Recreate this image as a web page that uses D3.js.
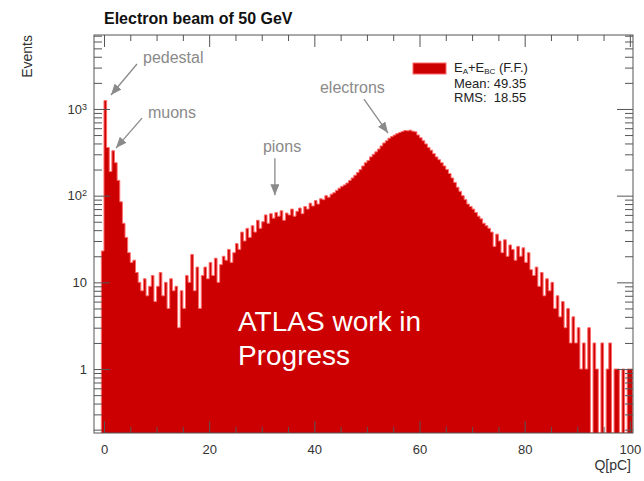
<!DOCTYPE html>
<html>
<head>
<meta charset="utf-8">
<script src="https://cdn.jsdelivr.net/npm/d3@7"></script>
<style>
  body { margin: 0; background: #fff; }
  svg { font-family: "Liberation Sans", Arial, Helvetica, sans-serif; }
</style>
</head>
<body>
<svg id="chart"></svg>
<script>
// Histogram of Q[pC], bins of 0.5 pC starting at -0.5
const binStart = -0.5;
const binWidth = 0.5;
const counts = [
  23, 1250, 360, 190, 330, 240, 150, 85, 48, 33,
  22, 17, 18, 13, 10, 8, 11, 7, 9, 12,
  6, 9, 13, 7, 10, 5, 11, 8, 9, 3,
  8, 5, 12, 10, 21, 8, 15, 5, 12, 15,
  11, 17, 12, 19, 10, 16, 20, 18, 24, 17,
  22, 28, 24, 38, 30, 42, 33, 45, 38, 52,
  42, 50, 60, 48, 62, 55, 64, 58, 67, 52,
  63, 60, 70, 58, 66, 72, 62, 75, 70, 82,
  76, 88, 80, 92, 90, 100, 96, 104, 108, 115,
  122, 128, 133, 140, 150, 160, 172, 185, 200, 220,
  240, 255, 280, 300, 320, 345, 375, 405, 430, 460,
  480, 500, 520, 535, 550, 565, 560, 570, 555, 545,
  500, 465, 430, 395, 360, 335, 305, 280, 260, 240,
  220, 200, 180, 160, 142, 125, 112, 100, 90, 80,
  75, 70, 64, 58, 54, 48, 45, 42, 38, 26,
  36, 30, 22, 31, 20, 27, 24, 18, 26, 20,
  25, 17, 22, 14, 12, 15, 9, 13, 7, 11,
  8, 10, 5, 7, 4, 6, 3, 5, 2, 4,
  2, 3, 1, 2, 1, 3, 0, 2, 1, 0,
  2, 0, 1, 2, 0, 1, 1, 0, 1, 0,
  1, 1
];

const xMajorTicks = [0, 20, 40, 60, 80, 100];
const xMinorTicks = [5, 10, 15, 25, 30, 35, 45, 50, 55, 65, 70, 75, 85, 90, 95];
const yMajorTicks = [1, 10, 100, 1000];
const yMinorMantissas = [2, 3, 4, 5, 6, 7, 8, 9];

const titleText = "Electron beam of 50 GeV";
const xTitle = "Q[pC]";
const yTitle = "Events";
const legendStats = ["Mean: 49.35", "RMS:  18.55"];

// arrow tips in data coordinates (Q, events)
const annotations = [
  { label: "pedestal", q: 1.33, v: 1450 },
  { label: "muons", q: 2.28, v: 354 },
  { label: "pions", q: 32.5, v: 101 },
  { label: "electrons", q: 54.0, v: 527 }
];
const watermark = ["ATLAS work in", "Progress"];

const svgWidth = 644;
const svgHeight = 481;
const frame = { left: 94, right: 633, top: 35, bottom: 433 };

const svg = d3.select("#chart")
    .attr("width", svgWidth)
    .attr("height", svgHeight)
    .style("background-color", "#fff");

const x = d3.scaleLinear()
    .domain([-1.9, 100.6])
    .range([frame.left, frame.right]);

const y = d3.scaleLog()
    .domain([0.183, 7130])
    .range([frame.bottom, frame.top]);

// bins -> points for step curves
const bins = counts.map((c, i) => ({ q: binStart + i * binWidth, v: c }));
const binEnd = binStart + counts.length * binWidth;
const stepPoints = [{ q: binStart, v: 0 }]
    .concat(bins)
    .concat([{ q: binEnd, v: bins[bins.length - 1].v }, { q: binEnd, v: 0 }]);

const yVal = d => d.v > 0 ? y(d.v) : frame.bottom;

const area = d3.area()
    .x(d => x(d.q))
    .y0(frame.bottom)
    .y1(yVal)
    .curve(d3.curveStepAfter);

const outline = d3.line()
    .x(d => x(d.q))
    .y(yVal)
    .curve(d3.curveStepAfter);

svg.append("defs").append("clipPath")
    .attr("id", "plot-clip")
    .append("rect")
    .attr("x", frame.left)
    .attr("y", frame.top)
    .attr("width", frame.right - frame.left)
    .attr("height", frame.bottom - frame.top);

const plot = svg.append("g").attr("clip-path", "url(#plot-clip)");

plot.append("path")
    .datum(stepPoints)
    .attr("d", area)
    .attr("fill", "#cc0000");

plot.append("path")
    .datum(stepPoints)
    .attr("d", outline)
    .attr("fill", "none")
    .attr("stroke", "#ff6a6a")
    .attr("stroke-width", 1);

// Watermark text
svg.append("text")
    .attr("x", 238)
    .attr("y", 331)
    .attr("fill", "#fff")
    .style("font-size", "28px")
    .selectAll("tspan")
    .data(watermark)
    .enter().append("tspan")
    .attr("x", 238)
    .attr("dy", (d, i) => i === 0 ? 0 : 34)
    .text(d => d);

// Axes (ROOT style, ticks inside the frame on all sides)
const axisColor = "#555";
const yMinorTicks = [];
[-1, 0, 1, 2, 3].forEach(k => {
    yMinorMantissas.forEach(m => {
        const v = m * Math.pow(10, k);
        if (v >= y.domain()[0] && v <= y.domain()[1]) yMinorTicks.push(v);
    });
});

function styleAxis(g) {
    g.select(".domain").remove();
    g.selectAll("line").attr("stroke", axisColor);
    g.selectAll("text").attr("fill", "#333").style("font-size", "13px");
}

svg.append("g")
    .attr("transform", `translate(0, ${frame.bottom})`)
    .call(d3.axisBottom(x).tickValues(xMajorTicks).tickSize(-12).tickPadding(12).tickFormat(d3.format("d")))
    .call(styleAxis);
svg.append("g")
    .attr("transform", `translate(0, ${frame.bottom})`)
    .call(d3.axisBottom(x).tickValues(xMinorTicks).tickSize(-6).tickFormat(""))
    .call(styleAxis);
svg.append("g")
    .attr("transform", `translate(0, ${frame.top})`)
    .call(d3.axisTop(x).tickValues(xMajorTicks).tickSize(-12).tickFormat(""))
    .call(styleAxis);
svg.append("g")
    .attr("transform", `translate(0, ${frame.top})`)
    .call(d3.axisTop(x).tickValues(xMinorTicks).tickSize(-6).tickFormat(""))
    .call(styleAxis);

const yAxisLeft = svg.append("g")
    .attr("transform", `translate(${frame.left}, 0)`)
    .call(d3.axisLeft(y).tickValues(yMajorTicks).tickSize(-16).tickPadding(7).tickFormat(""))
    .call(styleAxis);
svg.append("g")
    .attr("transform", `translate(${frame.left}, 0)`)
    .call(d3.axisLeft(y).tickValues(yMinorTicks).tickSize(-8).tickFormat(""))
    .call(styleAxis);
svg.append("g")
    .attr("transform", `translate(${frame.right}, 0)`)
    .call(d3.axisRight(y).tickValues(yMajorTicks).tickSize(-16).tickFormat(""))
    .call(styleAxis);
svg.append("g")
    .attr("transform", `translate(${frame.right}, 0)`)
    .call(d3.axisRight(y).tickValues(yMinorTicks).tickSize(-8).tickFormat(""))
    .call(styleAxis);

// y labels as powers of ten
yAxisLeft.selectAll(".tick text").each(function (d) {
    const t = d3.select(this);
    const p = Math.round(Math.log10(d));
    t.text(null);
    if (p <= 1) {
        t.text(d);
    } else {
        t.append("tspan").text("10");
        t.append("tspan").attr("dy", "-0.45em").style("font-size", "9px").text(p);
    }
});

// Frame
svg.append("rect")
    .attr("x", frame.left)
    .attr("y", frame.top)
    .attr("width", frame.right - frame.left)
    .attr("height", frame.bottom - frame.top)
    .attr("fill", "none")
    .attr("stroke", axisColor)
    .attr("stroke-width", 1);

// Titles
svg.append("text")
    .attr("x", 104)
    .attr("y", 24)
    .style("font-size", "16px")
    .style("font-weight", "bold")
    .attr("fill", "#111")
    .text(titleText);

svg.append("text")
    .attr("transform", "translate(32, 35) rotate(-90)")
    .style("text-anchor", "end")
    .style("font-size", "14px")
    .attr("fill", "#333")
    .text(yTitle);

svg.append("text")
    .attr("x", 631)
    .attr("y", 470)
    .style("text-anchor", "end")
    .style("font-size", "14px")
    .attr("fill", "#333")
    .text(xTitle);

// Legend
svg.append("rect")
    .attr("x", 413)
    .attr("y", 63)
    .attr("width", 33)
    .attr("height", 11)
    .attr("fill", "#cc0000")
    .attr("stroke", "#ff6a6a");

const legendLabel = svg.append("text")
    .attr("x", 454)
    .attr("y", 72)
    .style("font-size", "13px")
    .attr("fill", "#222");
legendLabel.append("tspan").text("E");
legendLabel.append("tspan").attr("dy", 2).style("font-size", "8px").text("A");
legendLabel.append("tspan").attr("dy", -2).text("+E");
legendLabel.append("tspan").attr("dy", 2).style("font-size", "8px").text("BC");
legendLabel.append("tspan").attr("dy", -2).text(" (F.F.)");

svg.selectAll(".legend-stat")
    .data(legendStats)
    .enter().append("text")
    .attr("class", "legend-stat")
    .attr("x", 454)
    .attr("y", (d, i) => 88 + i * 14)
    .style("font-size", "13px")
    .style("white-space", "pre")
    .attr("fill", "#222")
    .text(d => d);

// Annotation arrows
const arrowColor = "#8a8a8a";
svg.select("defs").append("marker")
    .attr("id", "arrowhead")
    .attr("markerUnits", "userSpaceOnUse")
    .attr("markerWidth", 11)
    .attr("markerHeight", 9)
    .attr("refX", 11)
    .attr("refY", 4.5)
    .attr("orient", "auto")
    .append("path")
    .attr("d", "M0,0 L11,4.5 L0,9 Z")
    .attr("fill", arrowColor);

// tail offset and label offset relative to arrow tip (pixels)
const arrowLayout = {
    pedestal: { tail: [26, -31], text: [32, -32] },
    muons: { tail: [26, -30], text: [32, -30] },
    pions: { tail: [0, -37], text: [-12, -43] },
    electrons: { tail: [-24, -34], text: [-68, -40] }
};

annotations.forEach(a => {
    const tx = x(a.q);
    const ty = y(a.v);
    const lay = arrowLayout[a.label];
    svg.append("line")
        .attr("x1", tx + lay.tail[0])
        .attr("y1", ty + lay.tail[1])
        .attr("x2", tx)
        .attr("y2", ty)
        .attr("stroke", arrowColor)
        .attr("stroke-width", 1.3)
        .attr("marker-end", "url(#arrowhead)");
    svg.append("text")
        .attr("x", tx + lay.text[0])
        .attr("y", ty + lay.text[1])
        .style("font-size", "16px")
        .attr("fill", arrowColor)
        .text(a.label);
});
</script>
</body>
</html>
